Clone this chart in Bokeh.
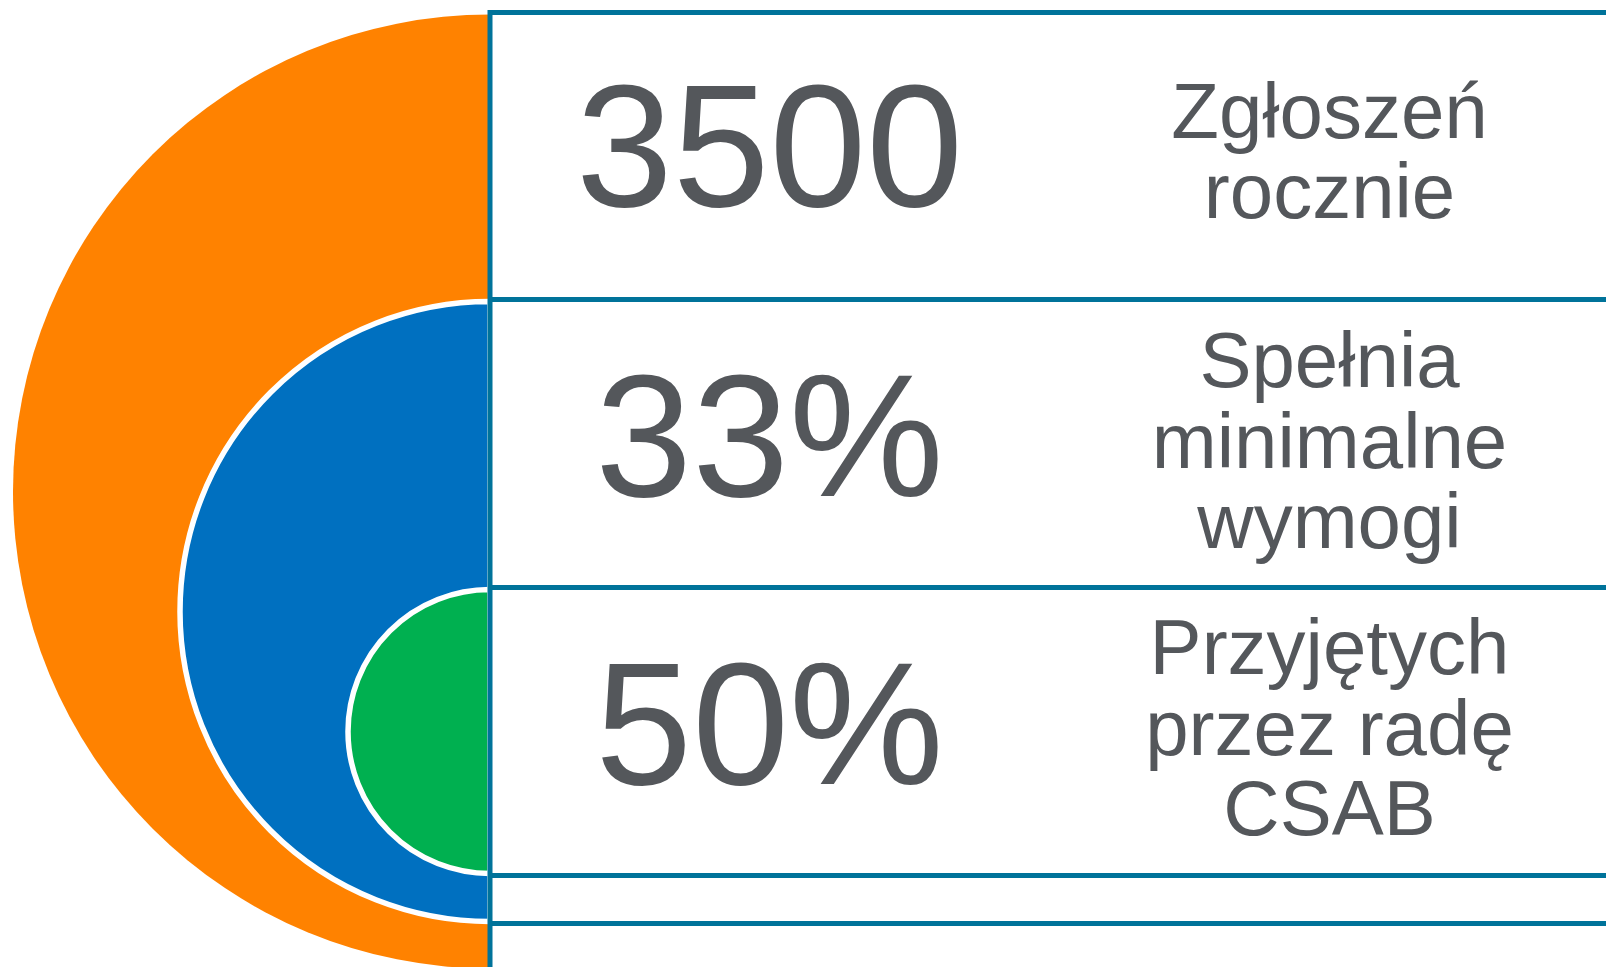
from bokeh.plotting import figure
from bokeh.models import Range1d
from bokeh.core.properties import value
from bokeh.embed import file_html
from bokeh.resources import INLINE
import math

# ---- data ----
stat_values = ["3500", "33%", "50%"]
stat_labels = [["Zgłoszeń", "rocznie"],
               ["Spełnia", "minimalne", "wymogi"],
               ["Przyjętych", "przez radę", "CSAB"]]

# ---- layout (screen pixels, y measured from top) ----
W, H = 1606, 967
def Y(y):
    return H - y

colors = ["#FF8200", "#0070C0", "#00B050"]
centers_y = [491, 611, 731]
radii = [477, 310, 142]
cx = 489.5

line_col = "#00739A"
text_col = "#54575B"
SHIFT = 0.355  # baseline compensation (fraction of font size)

p = figure(width=W, height=H, x_range=Range1d(0, W), y_range=Range1d(0, H),
           output_backend="svg", toolbar_location=None, min_border=0)
p.axis.visible = False
p.grid.visible = False
p.outline_line_color = None
p.background_fill_color = "white"
p.border_fill_color = "white"

for i, (c, cy, r) in enumerate(zip(colors, centers_y, radii)):
    p.wedge(x=[cx], y=[Y(cy)], radius=r, start_angle=math.pi / 2, end_angle=3 * math.pi / 2,
            fill_color=c, line_color=None if i == 0 else "white",
            line_width=0 if i == 0 else 5.5)

# horizontal lines
hlines = [12, 299, 587, 875, 923]
p.segment(x0=[cx] * len(hlines), y0=[Y(h) for h in hlines], x1=[W + 5] * len(hlines),
          y1=[Y(h) for h in hlines], line_color=line_col, line_width=5)
# vertical line
p.segment(x0=[cx], y0=[Y(9.5)], x1=[cx], y1=[-5], line_color=line_col, line_width=5)

# big numbers
num_baselines = [207, 497, 785]
num_sizes = [174, 174, 174]
for v, b, s in zip(stat_values, num_baselines, num_sizes):
    p.text(x=[769], y=[Y(b - SHIFT * s)], text=[v], text_font=value("Liberation Sans"),
           text_font_size=f"{s}px", text_color=text_col, text_align="center",
           text_baseline="alphabetic")

# labels
LS = 78
label_baselines = [[138, 218], [387, 468, 548], [674, 755, 835]]
for lines, bases in zip(stat_labels, label_baselines):
    for t, b in zip(lines, bases):
        p.text(x=[1329], y=[Y(b - SHIFT * LS)], text=[t], text_font=value("Liberation Sans"),
               text_font_size=f"{LS}px", text_color=text_col, text_align="center",
               text_baseline="alphabetic")

open("out.html", "w").write(file_html(p, INLINE))
